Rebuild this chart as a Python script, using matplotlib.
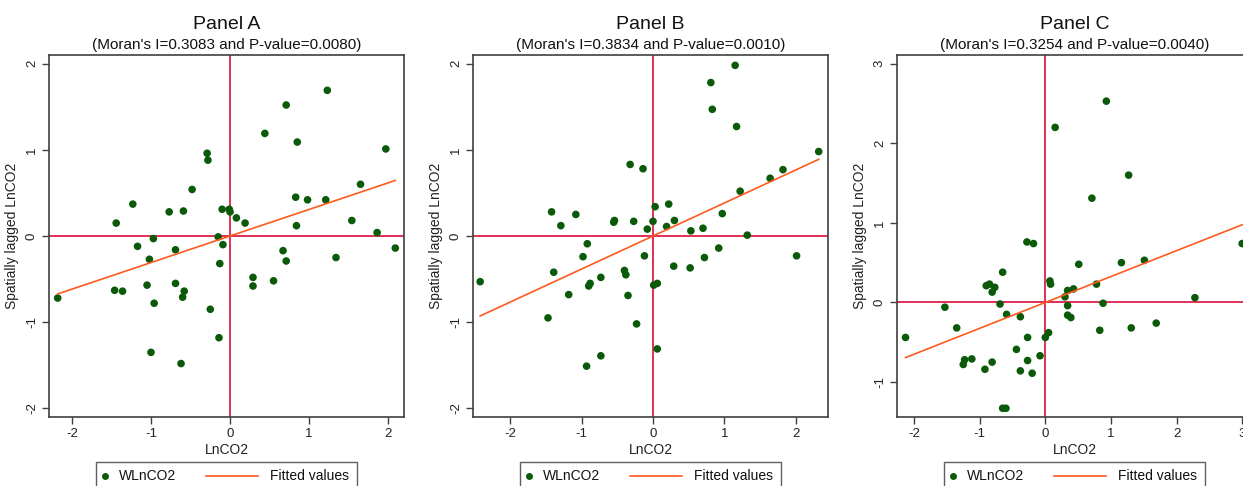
import numpy as np
import matplotlib
matplotlib.use("Agg")
import matplotlib.pyplot as plt
from matplotlib.patches import Rectangle
from matplotlib.lines import Line2D

plt.rcParams['font.family'] = ['Liberation Sans', 'DejaVu Sans']

# ---- data ----
panel_names = ["Panel A", "Panel B", "Panel C"]
morans_i = [0.3083, 0.3834, 0.3254]
p_values = [0.0080, 0.0010, 0.0040]

x_a = [1.23, 0.71, 0.44, 0.85, 1.97, -0.29, -0.28, 1.65, -0.48, 0.83,
       0.98, 1.21, -1.23, -1.44, -0.77, -0.59, -0.10, -0.01, 0.00, 0.08,
       0.19, 0.84, 1.54, 1.86, -0.15, -0.97, 2.09, -1.17, -0.09, -0.69,
       -1.02, -0.13, 0.67, 0.71, 1.34, 0.29, 0.29, 0.55, -1.05, -0.69,
       -1.46, -1.36, -0.58, -0.60, -2.18, -0.96, -0.25, -0.14, -1.00, -0.62]
y_a = [1.69, 1.52, 1.19, 1.09, 1.01, 0.96, 0.88, 0.60, 0.54, 0.45,
       0.42, 0.42, 0.37, 0.15, 0.28, 0.29, 0.31, 0.31, 0.28, 0.21,
       0.15, 0.12, 0.18, 0.04, -0.01, -0.03, -0.14, -0.12, -0.10, -0.16,
       -0.27, -0.32, -0.17, -0.29, -0.25, -0.48, -0.58, -0.52, -0.57, -0.55,
       -0.63, -0.64, -0.64, -0.71, -0.72, -0.78, -0.85, -1.18, -1.35, -1.48]

x_b = [1.15, 0.81, 0.83, 1.17, 2.32, -0.32, -0.14, 1.82, 1.64, 1.22,
       0.22, 0.03, -1.42, 0.97, -1.08, -0.54, -0.55, -0.27, 0.00, 0.30,
       -1.29, 0.19, -0.08, 0.70, 0.53, 1.32, -0.92, 0.92, -0.98, -0.12,
       0.72, 2.01, 0.29, 0.52, -2.42, -1.39, -0.40, -0.38, -0.73, -0.88,
       -0.90, 0.01, 0.06, -1.18, -0.35, -1.47, -0.23, 0.06, -0.73, -0.93]
y_b = [1.98, 1.78, 1.47, 1.27, 0.98, 0.83, 0.78, 0.77, 0.67, 0.52,
       0.37, 0.34, 0.28, 0.26, 0.25, 0.18, 0.16, 0.17, 0.17, 0.18,
       0.12, 0.11, 0.08, 0.09, 0.06, 0.01, -0.09, -0.14, -0.24, -0.23,
       -0.25, -0.23, -0.35, -0.37, -0.53, -0.42, -0.40, -0.45, -0.48, -0.55,
       -0.58, -0.57, -0.55, -0.68, -0.69, -0.95, -1.02, -1.31, -1.39, -1.51]

x_c = [0.93, 0.15, 1.27, 0.71, -0.28, -0.18, 3.00, 0.51, 1.16, 1.51,
       -0.65, 0.07, 0.08, -0.90, -0.85, -0.77, -0.81, 0.78, 0.34, 0.43,
       0.30, 2.28, -0.69, 0.88, -1.53, 0.34, -0.59, -0.38, 0.34, 0.39,
       1.69, -1.35, 1.31, 0.83, -2.13, -0.27, 0.05, 0.00, -0.44, -0.08,
       -1.23, -1.12, -1.25, -0.81, -0.27, -0.92, -0.38, -0.20, -0.65, -0.60]
y_c = [2.53, 2.20, 1.60, 1.31, 0.76, 0.74, 0.74, 0.48, 0.50, 0.53,
       0.38, 0.27, 0.23, 0.21, 0.23, 0.19, 0.13, 0.23, 0.15, 0.17,
       0.07, 0.06, -0.02, -0.01, -0.06, -0.04, -0.15, -0.18, -0.16, -0.19,
       -0.26, -0.32, -0.32, -0.35, -0.44, -0.44, -0.38, -0.44, -0.59, -0.67,
       -0.72, -0.71, -0.78, -0.75, -0.73, -0.84, -0.86, -0.89, -1.33, -1.33]

xs = [x_a, x_b, x_c]
ys = [y_a, y_b, y_c]
xlims = [(-2.29, 2.20), (-2.52, 2.45), (-2.26, 3.15)]
ylims = [(-2.10, 2.10), (-2.10, 2.10), (-1.44, 3.11)]
xticks = [[-2, -1, 0, 1, 2], [-2, -1, 0, 1, 2], [-2, -1, 0, 1, 2, 3]]
yticks = [[-2, -1, 0, 1, 2], [-2, -1, 0, 1, 2], [-1, 0, 1, 2, 3]]

pt_color = '#0a5a0a'
ref_color = '#dc2046'
fit_color = '#ff5a1e'
frame_color = '#404040'

fig = plt.figure(figsize=(12.43, 4.86), dpi=100)
lefts = [49 / 1243, 473 / 1243, 897 / 1243]
w = 355 / 1243
b = 1 - 417 / 486
h = 362 / 486

for i in range(3):
    ax = fig.add_axes([lefts[i], b, w, h])
    x = np.array(xs[i])
    y = np.array(ys[i])

    ax.axhline(0, color=ref_color, lw=1.3, zorder=1)
    ax.axvline(0, color=ref_color, lw=1.3, zorder=1)
    ax.scatter(x, y, s=30, color=pt_color, edgecolors='none', zorder=2)
    xf = np.array([x.min(), x.max()])
    ax.plot(xf, morans_i[i] * xf, color=fit_color, lw=1.2, zorder=3)

    ax.set_xlim(*xlims[i])
    ax.set_ylim(*ylims[i])
    ax.set_xticks(xticks[i])
    ax.set_yticks(yticks[i])
    ax.set_xticklabels([str(t) for t in xticks[i]], fontsize=9.5)
    ax.set_yticklabels([str(t) for t in yticks[i]], fontsize=9.5,
                       rotation=90, va='center')
    ax.tick_params(direction='out', length=5, width=1, color=frame_color,
                   labelcolor='#222222', pad=3)
    for s in ax.spines.values():
        s.set_color(frame_color)
        s.set_linewidth(1.2)

    ax.set_xlabel("LnCO2", fontsize=10, color='#222222', labelpad=2)
    ax.set_ylabel("Spatially lagged LnCO2", fontsize=10, color='#222222')
    ax.yaxis.set_label_coords(-0.085, 0.5)

    ax.text(0.5, 1.072, panel_names[i], transform=ax.transAxes,
            ha='center', va='baseline', fontsize=14, color='#111111')
    ax.text(0.5, 1.017,
            "(Moran's I={:.4f} and P-value={:.4f})".format(morans_i[i], p_values[i]),
            transform=ax.transAxes, ha='center', va='baseline',
            fontsize=11, color='#111111')

    # legend box below the plot (Stata style)
    tr = ax.transAxes
    ax.add_patch(Rectangle((0.1324, -0.21), 0.7352, 0.086, transform=tr,
                           fill=False, edgecolor='#606060', lw=1.0,
                           clip_on=False))
    ly = -0.163
    ax.add_line(Line2D([0.158], [ly], transform=tr, marker='o', ms=5,
                       color=pt_color, mec='none', ls='none', clip_on=False))
    ax.text(0.197, ly, "WLnCO2", transform=tr, va='center', ha='left',
            fontsize=10, color='#111111')
    ax.add_line(Line2D([0.442, 0.589], [ly, ly], transform=tr,
                       color=fit_color, lw=1.2, clip_on=False))
    ax.text(0.623, ly, "Fitted values", transform=tr, va='center',
            ha='left', fontsize=10, color='#111111')

fig.savefig("out.png", dpi=100)
